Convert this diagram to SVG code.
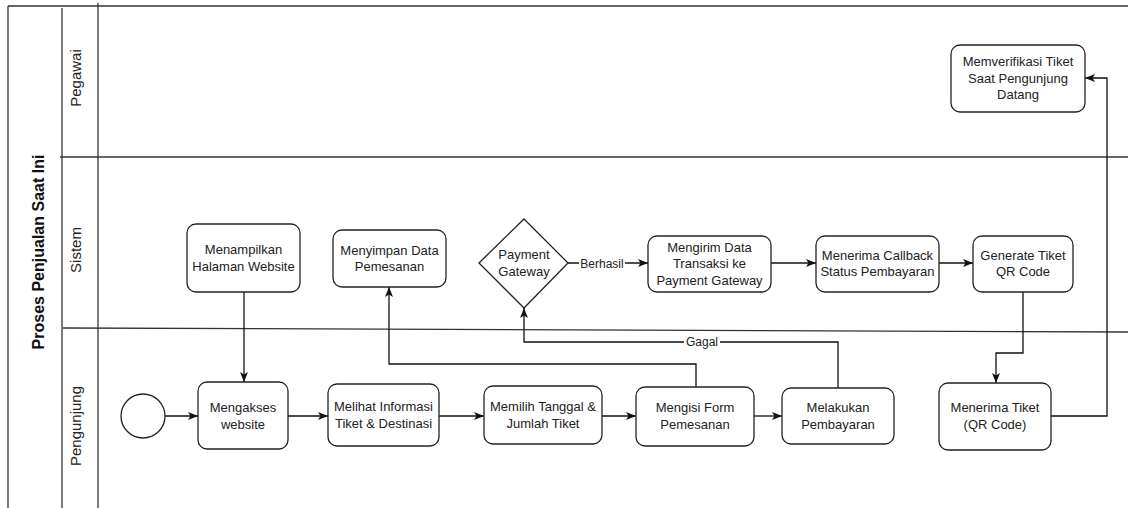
<svg xmlns="http://www.w3.org/2000/svg" width="1128" height="508" viewBox="0 0 1128 508">
<style>
.frame{fill:none;stroke:#333;stroke-width:1.3}
.node{fill:#fff;stroke:#222;stroke-width:1.3}
.t{font-family:"Liberation Sans",Arial,sans-serif;font-size:13px;fill:#222;text-anchor:middle}
.lane{font-family:"Liberation Sans",Arial,sans-serif;font-size:15px;fill:#222;text-anchor:middle;dominant-baseline:central}
.title{font-family:"Liberation Sans",Arial,sans-serif;font-size:16px;font-weight:bold;fill:#111;text-anchor:middle;dominant-baseline:central}
.edge{fill:none;stroke:#111;stroke-width:1.3;marker-end:url(#arr)}
.lbl{font-family:"Liberation Sans",Arial,sans-serif;font-size:12px;fill:#222;text-anchor:middle;dominant-baseline:central}
</style>
<defs>
<marker id="arr" markerUnits="userSpaceOnUse" markerWidth="10" markerHeight="10" viewBox="0 0 10 10" refX="10" refY="5" orient="auto">
<path d="M0,1 L10,5 L0,9 L2.5,5 z" fill="#111"/>
</marker>
</defs>
<rect width="1128" height="508" fill="#fff"/>
<g id="pool">
<line class="frame" x1="8" y1="6" x2="1128" y2="6"/>
<line class="frame" x1="8" y1="6" x2="8" y2="508"/>
<line class="frame" x1="62" y1="8" x2="62" y2="508"/>
<line class="frame" x1="98" y1="3" x2="98" y2="508"/>
<line class="frame" x1="60" y1="157" x2="1128" y2="157"/>
<line class="frame" x1="63" y1="328" x2="1128" y2="332"/>
<text class="title" transform="translate(38,252) rotate(-90)">Proses Penjualan Saat Ini</text>
<text class="lane" transform="translate(75,78) rotate(-90)">Pegawai</text>
<text class="lane" transform="translate(75,250) rotate(-90)">Sistem</text>
<text class="lane" transform="translate(75,426) rotate(-90)">Pengunjung</text>
</g>
<g id="connectors">
<path class="edge" d="M165,416 L198,416"/>
<path class="edge" d="M244,292 L244,382"/>
<path class="edge" d="M288,416 L328,416"/>
<path class="edge" d="M439,416 L484,416"/>
<path class="edge" d="M602,416 L636,416"/>
<path class="edge" d="M754,416 L782,416"/>
<path class="edge" d="M696,387 L696,364 L389,364 L389,287"/>
<path class="edge" d="M838,388 L838,342 L524,342 L524,308"/>
<rect x="684" y="335" width="36" height="14" fill="#fff"/>
<text class="lbl" x="702" y="342">Gagal</text>
<path class="edge" d="M568,263 L648,263"/>
<rect x="579" y="256" width="46" height="14" fill="#fff"/>
<text class="lbl" x="602" y="264">Berhasil</text>
<path class="edge" d="M771,263 L816,263"/>
<path class="edge" d="M939,263 L973,263"/>
<path class="edge" d="M1023,292 L1023,353 L996,353 L996,383"/>
<path class="edge" d="M1051,416 L1107,416 L1107,78 L1085,78"/>
</g>
<g id="start">
<circle class="node" cx="143" cy="416" r="22"/>
</g>
<g id="n-menampilkan">
<rect class="node" x="187" y="224" width="113" height="68" rx="9"/>
<text class="t" x="243.5" y="254">Menampilkan</text>
<text class="t" x="243.5" y="271">Halaman Website</text>
</g>
<g id="n-mengakses">
<rect class="node" x="198" y="382" width="90" height="67" rx="9"/>
<text class="t" x="243" y="412">Mengakses</text>
<text class="t" x="243" y="429">website</text>
</g>
<g id="n-melihat">
<rect class="node" x="328" y="384" width="111" height="62" rx="9"/>
<text class="t" x="383.5" y="411">Melihat Informasi</text>
<text class="t" x="383.5" y="428">Tiket &amp; Destinasi</text>
</g>
<g id="n-memilih">
<rect class="node" x="484" y="386" width="118" height="58" rx="9"/>
<text class="t" x="543" y="411">Memilih Tanggal &amp;</text>
<text class="t" x="543" y="428">Jumlah Tiket</text>
</g>
<g id="n-mengisi">
<rect class="node" x="636" y="387" width="118" height="59" rx="9"/>
<text class="t" x="695" y="412">Mengisi Form</text>
<text class="t" x="695" y="429">Pemesanan</text>
</g>
<g id="n-melakukan">
<rect class="node" x="782" y="388" width="112" height="56" rx="9"/>
<text class="t" x="838" y="412">Melakukan</text>
<text class="t" x="838" y="429">Pembayaran</text>
</g>
<g id="n-menerima-tiket">
<rect class="node" x="939" y="383" width="112" height="67" rx="9"/>
<text class="t" x="995" y="412">Menerima Tiket</text>
<text class="t" x="995" y="429">(QR Code)</text>
</g>
<g id="n-menyimpan">
<rect class="node" x="333" y="230" width="113" height="57" rx="9"/>
<text class="t" x="389.5" y="255">Menyimpan Data</text>
<text class="t" x="389.5" y="271">Pemesanan</text>
</g>
<g id="n-gateway">
<polygon class="node" points="524,219 568,263 524,308 479,263"/>
<text class="t" x="524" y="259">Payment</text>
<text class="t" x="524" y="276">Gateway</text>
</g>
<g id="n-mengirim">
<rect class="node" x="648" y="236" width="123" height="56" rx="9"/>
<text class="t" x="709.5" y="252">Mengirim Data</text>
<text class="t" x="709.5" y="268">Transaksi ke</text>
<text class="t" x="709.5" y="285">Payment Gateway</text>
</g>
<g id="n-callback">
<rect class="node" x="816" y="236" width="123" height="56" rx="9"/>
<text class="t" x="877.5" y="260">Menerima Callback</text>
<text class="t" x="877.5" y="276">Status Pembayaran</text>
</g>
<g id="n-generate">
<rect class="node" x="973" y="236" width="100" height="56" rx="9"/>
<text class="t" x="1023" y="260">Generate Tiket</text>
<text class="t" x="1023" y="276">QR Code</text>
</g>
<g id="n-memverifikasi">
<rect class="node" x="951" y="45" width="134" height="67" rx="9"/>
<text class="t" x="1018" y="66">Memverifikasi Tiket</text>
<text class="t" x="1018" y="83">Saat Pengunjung</text>
<text class="t" x="1018" y="99">Datang</text>
</g>
</svg>
